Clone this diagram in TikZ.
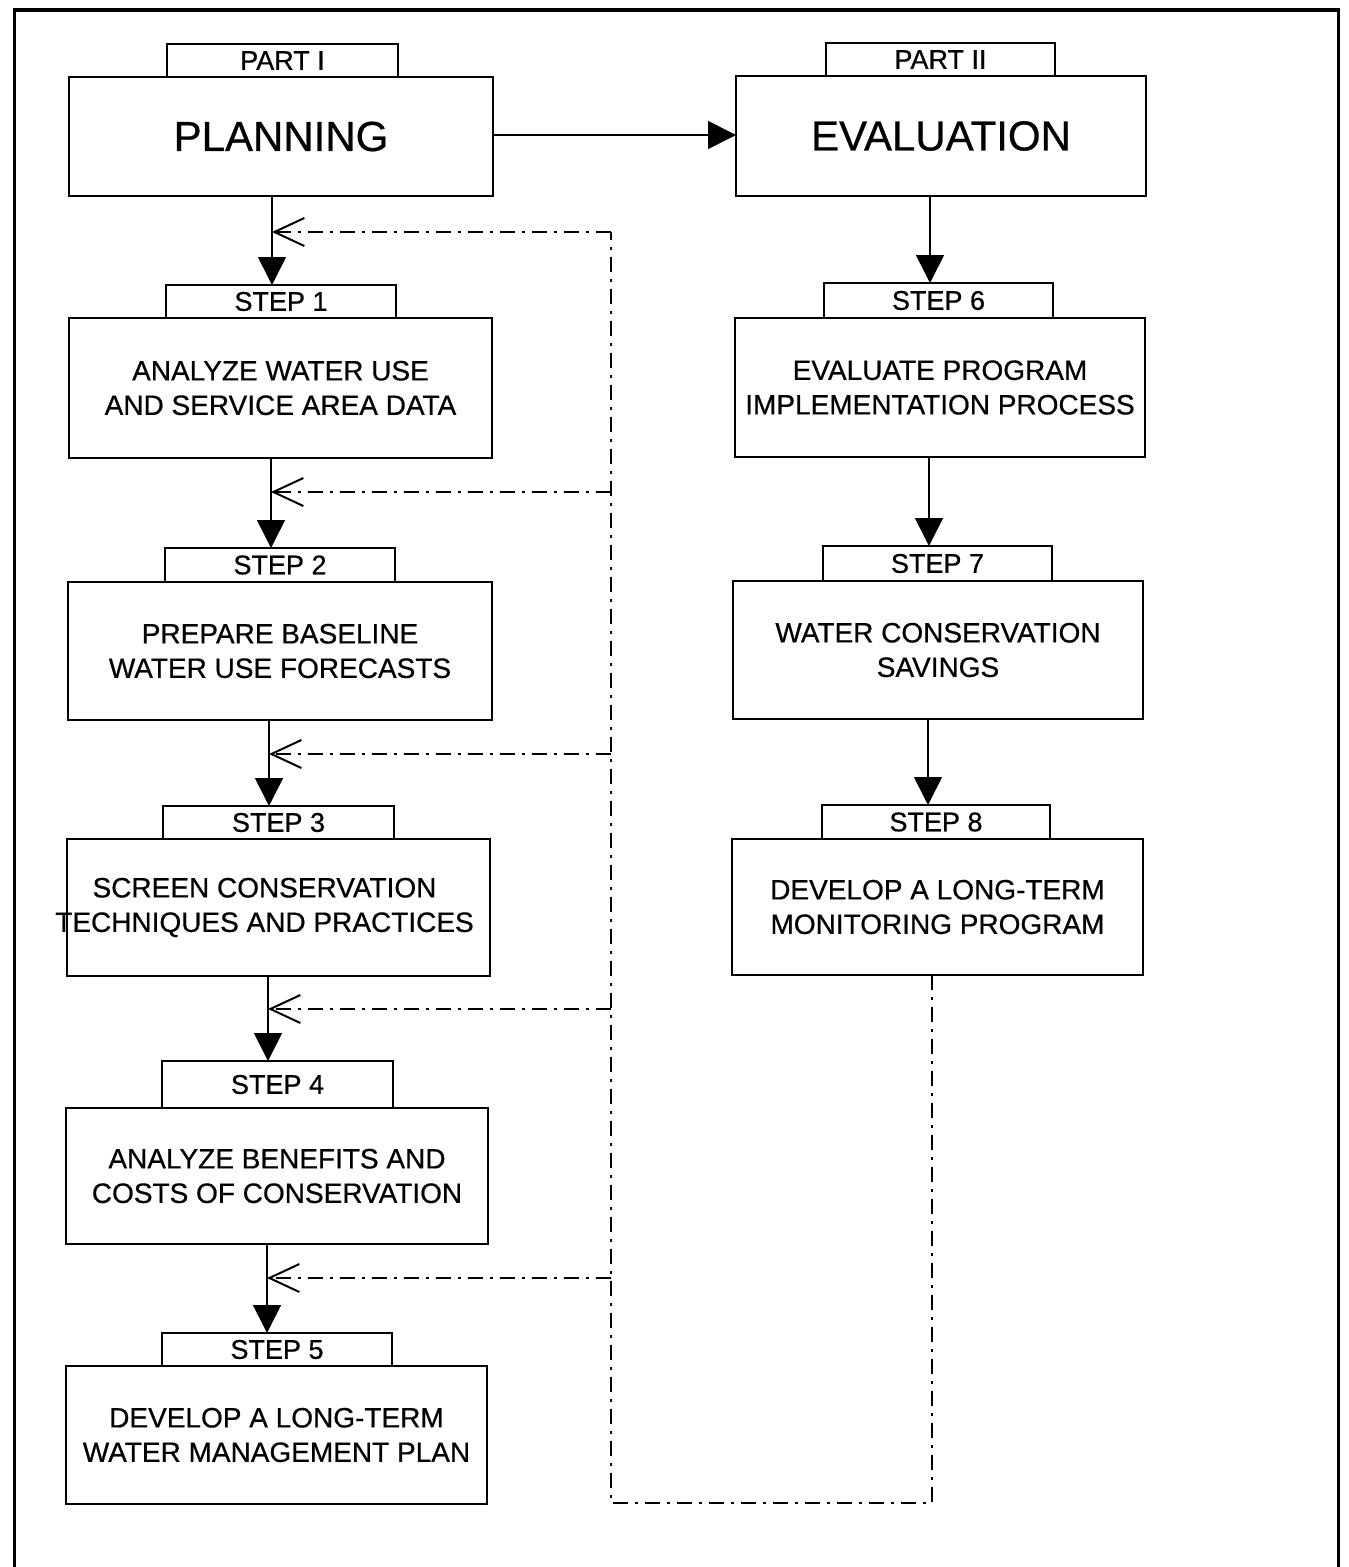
\documentclass[tikz,border=0pt]{standalone}
\usepackage{fontspec}
\setmainfont{Liberation Sans}
\newfontfamily\heavysans{Liberation Sans}[FakeBold=0.6]
\usetikzlibrary{arrows.meta}

\begin{document}
\begin{tikzpicture}[x=1pt,y=-1pt,
  tab/.style={draw, line width=2.4pt, inner sep=0pt, outer sep=0pt,
    font=\heavysans\fontsize{27pt}{34pt}\selectfont},
  box/.style={draw, line width=2.4pt, inner sep=0pt, outer sep=0pt},
  title/.style={inner sep=0pt, font=\heavysans\fontsize{42pt}{48pt}\selectfont},
  body/.style={inner sep=0pt, align=center, font=\heavysans\fontsize{28pt}{34.5pt}\selectfont},
  flow/.style={line width=1.6pt, -{Triangle[length=28pt,width=28pt]}},
  back/.style={line width=2.8pt, dash pattern=on 15pt off 7pt on 3pt off 7pt,
    -{Straight Barb[length=30pt,width=28pt,line width=2pt]}},
  backline/.style={line width=2.8pt, dash pattern=on 15pt off 7pt on 3pt off 7pt}
]
\useasboundingbox (0,0) rectangle (1349,1567);

% outer frame (open at the bottom)
\draw[line width=3pt] (14,1567) -- (14,10);
\draw[line width=3pt] (1338,10) -- (1338,1567);
\draw[line width=4.5pt] (12.5,10) -- (1339.5,10);

% ---------------- Part I : planning ----------------
\node[tab, minimum width=231pt, minimum height=33pt] (pt) at (282.5,60.5) {PART I};
\node[box, minimum width=424pt, minimum height=119pt] (pb) at (281,136.5) {};
\node[title] (pl) at (pb.center) {PLANNING};

\node[tab, minimum width=230pt, minimum height=33pt] (t1) at (281,301.5) {STEP 1};
\node[box, minimum width=423pt, minimum height=140pt] (b1) at (280.5,388) {};
\node[body] (l1) at (b1.center) {ANALYZE WATER USE\\AND SERVICE AREA DATA};

\node[tab, minimum width=230pt, minimum height=34pt] (t2) at (280,565) {STEP 2};
\node[box, minimum width=424pt, minimum height=138pt] (b2) at (280,651) {};
\node[body] (l2) at (b2.center) {PREPARE BASELINE\\WATER USE FORECASTS};

\node[tab, minimum width=231pt, minimum height=33pt] (t3) at (278.5,822.5) {STEP 3};
\node[box, minimum width=423pt, minimum height=137pt] (b3) at (278.5,907.5) {};
\node[body] (l3) at ([xshift=-14pt]b3.center) {SCREEN CONSERVATION\\TECHNIQUES AND PRACTICES};

\node[tab, minimum width=231pt, minimum height=47pt] (t4) at (277.5,1084.5) {STEP 4};
\node[box, minimum width=422pt, minimum height=136pt] (b4) at (277,1176) {};
\node[body] (l4) at (b4.center) {ANALYZE BENEFITS AND\\COSTS OF CONSERVATION};

\node[tab, minimum width=230pt, minimum height=33pt] (t5) at (277,1349.5) {STEP 5};
\node[box, minimum width=421pt, minimum height=138pt] (b5) at (276.5,1435) {};
\node[body] (l5) at (b5.center) {DEVELOP A LONG-TERM\\WATER MANAGEMENT PLAN};

% ---------------- Part II : evaluation ----------------
\node[tab, minimum width=229pt, minimum height=33pt] (et) at (940.5,59.5) {PART II};
\node[box, minimum width=410pt, minimum height=120pt] (eb) at (941,136) {};
\node[title] (el) at (eb.center) {EVALUATION};

\node[tab, minimum width=229pt, minimum height=35pt] (t6) at (938.5,300.5) {STEP 6};
\node[box, minimum width=410pt, minimum height=139pt] (b6) at (940,387.5) {};
\node[body] (l6) at (b6.center) {EVALUATE PROGRAM\\IMPLEMENTATION PROCESS};

\node[tab, minimum width=229pt, minimum height=35pt] (t7) at (937.5,563.5) {STEP 7};
\node[box, minimum width=410pt, minimum height=138pt] (b7) at (938,650) {};
\node[body] (l7) at (b7.center) {WATER CONSERVATION\\SAVINGS};

\node[tab, minimum width=228pt, minimum height=34pt] (t8) at (936,822) {STEP 8};
\node[box, minimum width=411pt, minimum height=136pt] (b8) at (937.5,907) {};
\node[body] (l8) at (b8.center) {DEVELOP A LONG-TERM\\MONITORING PROGRAM};

% ---------------- main flow ----------------
\draw[flow] (pb.east |- 0,135) -- (eb.west |- 0,135);

\draw[flow] ([xshift=-9pt]pb.south) -- ([xshift=-9pt]pb.south |- t1.north);
\draw[flow] ([xshift=-9.5pt]b1.south) -- ([xshift=-9.5pt]b1.south |- t2.north);
\draw[flow] ([xshift=-11pt]b2.south) -- ([xshift=-11pt]b2.south |- t3.north);
\draw[flow] ([xshift=-10.5pt]b3.south) -- ([xshift=-10.5pt]b3.south |- t4.north);
\draw[flow] ([xshift=-10pt]b4.south) -- ([xshift=-10pt]b4.south |- t5.north);

\draw[flow] ([xshift=-11pt]eb.south) -- ([xshift=-11pt]eb.south |- t6.north);
\draw[flow] ([xshift=-11pt]b6.south) -- ([xshift=-11pt]b6.south |- t7.north);
\draw[flow] ([xshift=-10pt]b7.south) -- ([xshift=-10pt]b7.south |- t8.north);

% ---------------- feedback loop ----------------
\coordinate (j1) at (272,232);
\coordinate (j2) at (271,492);
\coordinate (j3) at (269,754);
\coordinate (j4) at (268,1009);
\coordinate (j5) at (267,1278);

\coordinate (k1) at (611,232);
\coordinate (k2) at (611,492);
\coordinate (k3) at (611,754);
\coordinate (k4) at (611,1009);
\coordinate (k5) at (611,1278);
\coordinate (kb) at (611,1503);
\coordinate (rb) at (932,1503);

\draw[backline] (b8.south -| rb) -- (rb) -- (kb) -- (k1);
\draw[back] (k1) -- (j1);
\draw[back] (k2) -- (j2);
\draw[back] (k3) -- (j3);
\draw[back] (k4) -- (j4);
\draw[back] (k5) -- (j5);
\end{tikzpicture}
\end{document}
